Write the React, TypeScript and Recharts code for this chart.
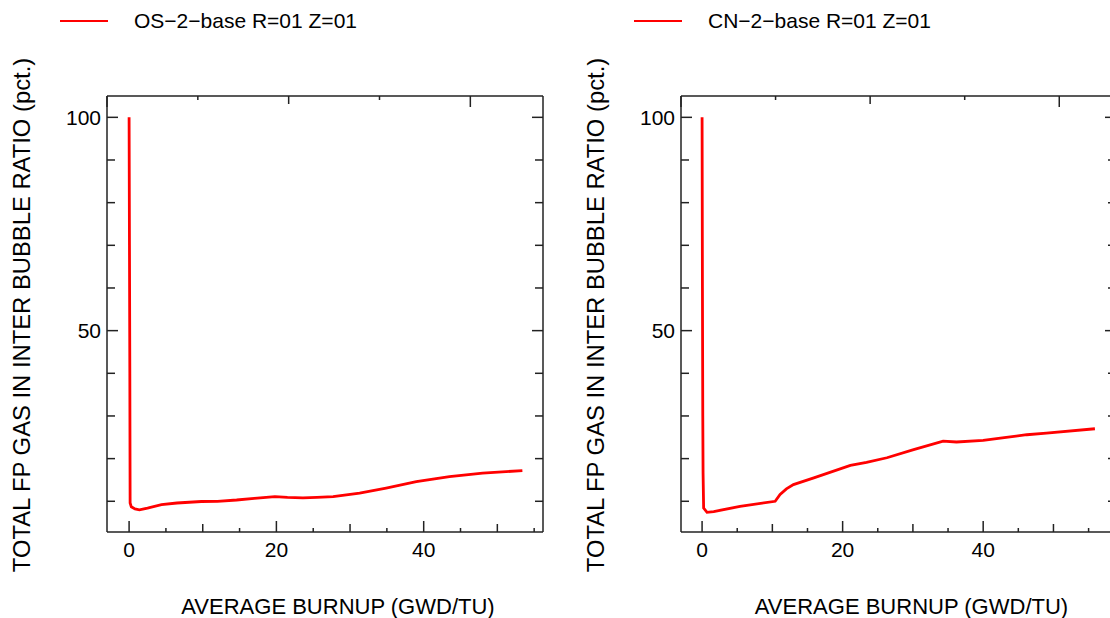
import { LineChart, Line, XAxis, YAxis } from 'recharts';

// OS-2-base R=01 Z=01
const osBurnup = [0, 0.05, 0.1, 0.14, 0.3, 0.8, 1.4, 2.5, 4.4, 6.5, 9.8, 12, 14.6, 17, 19.8, 21.5, 23.6, 25.5, 27.7, 31.3, 34.9, 39, 43.5, 48, 53.4];
const osRatio = [100, 70, 40, 9.6, 8.7, 8.2, 8.0, 8.4, 9.2, 9.6, 9.95, 10.0, 10.3, 10.7, 11.1, 10.9, 10.8, 10.9, 11.1, 11.9, 13.1, 14.6, 15.8, 16.6, 17.2];

// CN-2-base R=01 Z=01
const cnBurnup = [0, 0.05, 0.1, 0.14, 0.22, 0.7, 1.65, 5.4, 10.4, 11.1, 12, 13, 15.9, 21.1, 23.4, 26.3, 30.1, 34.3, 36.2, 40, 43, 46.2, 49, 55.9];
const cnRatio = [100, 60, 30, 16.7, 8.4, 7.4, 7.6, 8.8, 10.0, 11.6, 12.9, 13.9, 15.5, 18.4, 19.1, 20.2, 22.1, 24.1, 23.9, 24.3, 24.9, 25.6, 26.0, 27.0];

const xTicks = [0, 5, 10, 15, 20, 25, 30, 35, 40, 45, 50, 55];
const yTicks = [10, 20, 30, 40, 50, 60, 70, 80, 90, 100];
const yDomain = [2.8, 105];

const FONT = '"Liberation Sans", Arial, Helvetica, sans-serif';
const AXIS = '#222';

function xLen(v: number) {
  return v % 20 === 0 ? 11 : v % 10 === 0 ? 8 : 4;
}
function yLen(v: number) {
  return v % 50 === 0 ? 11 : 8;
}

function BottomTick({ x, y, payload }: any) {
  const v = payload.value;
  return (
    <g>
      <line x1={x} y1={y} x2={x} y2={y - xLen(v)} stroke={AXIS} strokeWidth={1.5} />
      {v % 20 === 0 && (
        <text x={x} y={y + 25} textAnchor="middle" fontSize={21} fontFamily={FONT} fill="#000">
          {v}
        </text>
      )}
    </g>
  );
}

function TopTick({ x, y, payload }: any) {
  return <line x1={x} y1={y} x2={x} y2={y + xLen(payload.value)} stroke={AXIS} strokeWidth={1.5} />;
}

function LeftTick({ x, y, payload }: any) {
  const v = payload.value;
  return (
    <g>
      <line x1={x} y1={y} x2={x + yLen(v)} y2={y} stroke={AXIS} strokeWidth={1.5} />
      {v % 50 === 0 && (
        <text x={x - 6} y={y + 7.5} textAnchor="end" fontSize={21} fontFamily={FONT} fill="#000">
          {v}
        </text>
      )}
    </g>
  );
}

function RightTick({ x, y, payload }: any) {
  return <line x1={x} y1={y} x2={x - yLen(payload.value)} y2={y} stroke={AXIS} strokeWidth={1.5} />;
}

type PanelProps = {
  xs: number[];
  ys: number[];
  xMax: number;
  left: number;
  rightMargin: number;
  name: string;
  yLabelX: number;
};

function Panel({ xs, ys, xMax, left, rightMargin, name, yLabelX }: PanelProps) {
  const data = xs.map((x, i) => ({ x, y: ys[i] }));
  const W = 560;
  const H = 618;
  const plotLeft = 107;
  const plotW = W - plotLeft - rightMargin;
  return (
    <div style={{ position: 'absolute', left, top: 0, width: W, height: H }}>
      <div
        style={{
          position: 'absolute',
          left: plotLeft - 47,
          top: 9,
          display: 'flex',
          alignItems: 'center',
          fontFamily: FONT,
          fontSize: 21,
          whiteSpace: 'nowrap',
        }}
      >
        <span style={{ display: 'inline-block', width: 48, height: 2, background: '#ff0000', marginRight: 26 }} />
        <span>{name}</span>
      </div>
      <LineChart width={W} height={H} data={data} margin={{ top: 95, left: plotLeft - 1, right: rightMargin - 1, bottom: 85 }}>
        <XAxis
          xAxisId="bottom"
          dataKey="x"
          type="number"
          domain={[-3, xMax]}
          allowDataOverflow
          ticks={xTicks}
          interval={0}
          height={1}
          tickSize={0}
          tickMargin={0}
          tick={(p: any) => <BottomTick {...p} />}
          axisLine={{ stroke: AXIS, strokeWidth: 1.5 }}
          tickLine={false}
          label={{
            value: 'AVERAGE BURNUP (GWD/TU)',
            content: () => (
              <text x={plotLeft + plotW / 2 + 13} y={614} textAnchor="middle" fontSize={22} fontFamily={FONT} fill="#000">
                AVERAGE BURNUP (GWD/TU)
              </text>
            ),
          }}
        />
        <XAxis
          xAxisId="top"
          orientation="top"
          type="number"
          domain={[-3, xMax]}
          allowDataOverflow
          ticks={xTicks}
          interval={0}
          height={1}
          tickSize={0}
          tickMargin={0}
          tick={(p: any) => <TopTick {...p} />}
          axisLine={{ stroke: AXIS, strokeWidth: 1.5 }}
          tickLine={false}
        />
        <YAxis
          yAxisId="left"
          type="number"
          domain={yDomain}
          allowDataOverflow
          ticks={yTicks}
          interval={0}
          width={1}
          tickSize={0}
          tickMargin={0}
          tick={(p: any) => <LeftTick {...p} />}
          axisLine={{ stroke: AXIS, strokeWidth: 1.5 }}
          tickLine={false}
          label={{
            value: 'TOTAL FP GAS IN INTER BUBBLE RATIO (pct.)',
            content: () => (
              <text
                x={yLabelX}
                y={315}
                transform={`rotate(-90 ${yLabelX} 315)`}
                textAnchor="middle"
                dominantBaseline="central"
                fontSize={23.8}
                fontFamily={FONT}
                fill="#000"
              >
                TOTAL FP GAS IN INTER BUBBLE RATIO (pct.)
              </text>
            ),
          }}
        />
        <YAxis
          yAxisId="right"
          orientation="right"
          type="number"
          domain={yDomain}
          allowDataOverflow
          ticks={yTicks}
          interval={0}
          width={1}
          tickSize={0}
          tickMargin={0}
          tick={(p: any) => <RightTick {...p} />}
          axisLine={{ stroke: AXIS, strokeWidth: 1.5 }}
          tickLine={false}
        />
        <Line
          xAxisId="bottom"
          yAxisId="left"
          type="linear"
          dataKey="y"
          stroke="#ff0000"
          strokeWidth={2.8}
          dot={false}
          isAnimationActive={false}
        />
      </LineChart>
    </div>
  );
}

export default function App() {
  return (
    <div
      style={{
        position: 'absolute',
        left: 0,
        top: 0,
        width: 1110,
        height: 618,
        overflow: 'hidden',
        background: '#fff',
      }}
    >
      <Panel xs={osBurnup} ys={osRatio} xMax={56.2} left={0} rightMargin={17} name="OS−2−base R=01 Z=01" yLabelX={21} />
      <Panel xs={cnBurnup} ys={cnRatio} xMax={58.9} left={574} rightMargin={18} name="CN−2−base R=01 Z=01" yLabelX={21} />
    </div>
  );
}
